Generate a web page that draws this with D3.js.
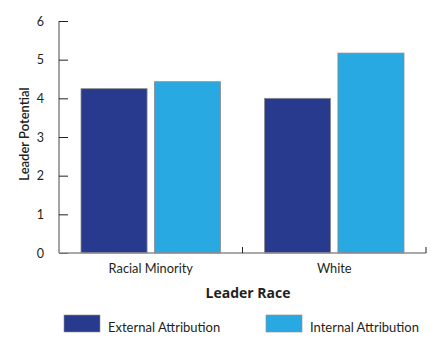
<!DOCTYPE html>
<html>
<head>
<meta charset="utf-8">
<script src="https://cdn.jsdelivr.net/npm/d3@7"></script>
<style>
  body { margin: 0; background: #fff; }
  text { font-family: Lato, "Open Sans", sans-serif; fill: #231f20; }
</style>
</head>
<body>
<div id="chart"></div>
<script>
const races = ["Racial Minority", "White"];
const seriesNames = ["External Attribution", "Internal Attribution"];
const externalVals = [4.25, 4.0];
const internalVals = [4.43, 5.17];
const yTicks = [0, 1, 2, 3, 4, 5, 6];
const colors = ["#283a8e", "#29a9e1"];

const width = 440, height = 351;
const margin = { top: 21, right: 14, bottom: 98, left: 59 };
const innerW = width - margin.left - margin.right;
const innerH = height - margin.top - margin.bottom;

const svg = d3.select("#chart").append("svg")
  .attr("width", width)
  .attr("height", height);

const g = svg.append("g")
  .attr("transform", `translate(${margin.left},${margin.top})`);

const x = d3.scaleBand().domain(races).range([0, innerW]).paddingInner(0).paddingOuter(0);
const xSub = d3.scaleBand().domain(seriesNames).range([22, x.bandwidth() - 22]).paddingInner(0.1);
const y = d3.scaleLinear().domain([0, 6]).range([innerH, 0]);

const data = races.map((r, i) => ({ race: r, values: [externalVals[i], internalVals[i]] }));

// bars
const groups = g.selectAll(".grp").data(data).join("g")
  .attr("class", "grp")
  .attr("transform", d => `translate(${x(d.race)},0)`);

groups.selectAll("rect")
  .data(d => d.values.map((v, j) => ({ s: seriesNames[j], v, j })))
  .join("rect")
  .attr("x", d => xSub(d.s))
  .attr("y", d => y(d.v))
  .attr("width", xSub.bandwidth())
  .attr("height", d => innerH - y(d.v))
  .attr("fill", d => colors[d.j])
  .attr("stroke", "#8c8c90")
  .attr("stroke-width", 0.8);

// y axis
const yAxis = g.append("g")
  .call(d3.axisLeft(y).tickValues(yTicks).tickSize(-9).tickPadding(15).tickFormat(d3.format("d")));
yAxis.select(".domain").attr("stroke", "#8c8c90").attr("stroke-width", 1.6).attr("d", `M0,0V${innerH}`);
yAxis.selectAll(".tick line").attr("stroke", "#231f20").attr("stroke-width", 1);
yAxis.selectAll("text").attr("font-size", "12.5px");

// x axis
const xAxis = g.append("g")
  .attr("transform", `translate(0,${innerH})`)
  .call(d3.axisBottom(x).tickSize(0).tickPadding(11));
xAxis.select(".domain").attr("stroke", "#8c8c90").attr("stroke-width", 1.6).attr("d", `M0,0H${innerW}`);
xAxis.selectAll("text").attr("font-size", "12.8px");

// band boundary ticks
g.selectAll(".bnd")
  .data(races)
  .join("line")
  .attr("class", "bnd")
  .attr("x1", d => x(d) + x.bandwidth())
  .attr("x2", d => x(d) + x.bandwidth())
  .attr("y1", innerH)
  .attr("y2", innerH - 6)
  .attr("stroke", "#231f20")
  .attr("stroke-width", 1);

// axis titles
svg.append("text")
  .attr("x", 248)
  .attr("y", 298)
  .attr("text-anchor", "middle")
  .attr("font-size", "14px")
  .attr("font-weight", "bold")
  .style("font-family", "'Open Sans', sans-serif")
  .text("Leader Race");

svg.append("text")
  .attr("transform", `translate(29,${margin.top + innerH / 2 - 3}) rotate(-90)`)
  .attr("text-anchor", "middle")
  .attr("font-size", "13px")
  .attr("font-weight", "600")
  .text("Leader Potential");

// legend
const legendX = [64, 266];
const legend = svg.selectAll(".leg").data(seriesNames).join("g")
  .attr("class", "leg")
  .attr("transform", (d, i) => `translate(${legendX[i]},315)`);
legend.append("rect")
  .attr("width", 36).attr("height", 17)
  .attr("fill", (d, i) => colors[i])
  .attr("stroke", "#8c8c90").attr("stroke-width", 0.6);
legend.append("text")
  .attr("x", 44).attr("y", 17)
  .attr("font-size", "13px")
  .text(d => d);
</script>
</body>
</html>
